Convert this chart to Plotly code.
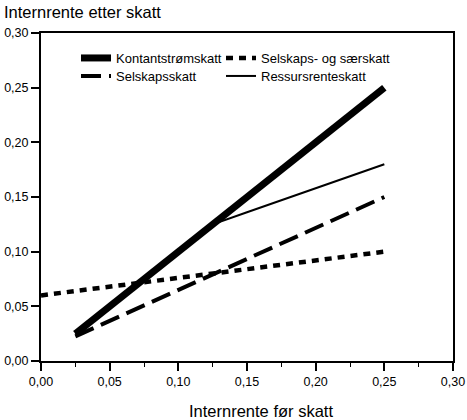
import plotly.graph_objects as go

# before-tax internal rate (x) and after-tax internal rate for each tax regime
x_main = [0.025, 0.05, 0.075, 0.10, 0.125, 0.15, 0.175, 0.20, 0.225, 0.25]
x_full = [0.0, 0.025, 0.05, 0.075, 0.10, 0.125, 0.15, 0.175, 0.20, 0.225, 0.25]

kontantstrom = [0.025, 0.05, 0.075, 0.10, 0.125, 0.15, 0.175, 0.20, 0.225, 0.25]
selskaps_saer = [0.060, 0.064, 0.068, 0.072, 0.076, 0.080, 0.084, 0.088, 0.092, 0.096, 0.100]
selskapsskatt = [0.0225, 0.0367, 0.0508, 0.065, 0.0792, 0.0933, 0.1075, 0.1217, 0.1358, 0.150]
ressursrente = [0.025, 0.05, 0.075, 0.10, 0.125, 0.136, 0.147, 0.158, 0.169, 0.180]

tick_vals = [0.0, 0.05, 0.10, 0.15, 0.20, 0.25, 0.30]

FONT = 'Liberation Sans, Arial, sans-serif'

W, H = 467, 420
L, R, T, B = 41, 14, 33, 59
PW, PH = W - L - R, H - T - B

# page pixel -> paper coordinate
def px_x(p):
	return (p - L)/PW

def px_y(p):
	return (H - B - p)/PH

fig = go.Figure()
fig.add_trace(go.Scatter(
	x = x_main, y = kontantstrom, mode = 'lines', name = 'Kontantstrømskatt',
	line = dict(color = 'black', width = 7), legend = 'legend',
))
fig.add_trace(go.Scatter(
	x = x_full, y = selskaps_saer, mode = 'lines', name = 'Selskaps- og særskatt',
	line = dict(color = 'black', width = 4.5, dash = '7px,6px'), legend = 'legend2',
))
fig.add_trace(go.Scatter(
	x = x_main, y = selskapsskatt, mode = 'lines', name = 'Selskapsskatt',
	line = dict(color = 'black', width = 4, dash = '20px,8px'), legend = 'legend3',
))
fig.add_trace(go.Scatter(
	x = x_main, y = ressursrente, mode = 'lines', name = 'Ressursrenteskatt',
	line = dict(color = 'black', width = 2), legend = 'legend4',
))

axis_common = dict(
	range = [0, 0.30],
	tickvals = tick_vals,
	tickformat = '.2f',
	ticks = 'outside',
	ticklen = 8,
	tickwidth = 2,
	tickcolor = 'black',
	showline = True,
	linewidth = 2,
	linecolor = 'black',
	mirror = True,
	showgrid = False,
	zeroline = False,
	tickfont = dict(family = FONT, size = 12.5, color = 'black'),
)

fig.update_xaxes(
	**axis_common,
	minor = dict(ticks = 'outside', ticklen = 4, tickwidth = 1, tickcolor = 'black', dtick = 0.025, showgrid = False),
)
fig.update_yaxes(**axis_common)

def legend_at(x_text_px, y_center_px):
	return dict(
		x = px_x(x_text_px - 40),
		xanchor = 'left',
		y = px_y(y_center_px),
		yanchor = 'middle',
		itemwidth = 30,
		bgcolor = 'rgba(0,0,0,0)',
		font = dict(family = FONT, size = 13, color = 'black'),
	)

fig.update_layout(
	width = W,
	height = H,
	margin = dict(l = L, r = R, t = T, b = B, autoexpand = False),
	paper_bgcolor = 'white',
	plot_bgcolor = 'white',
	separators = ', ',
	font = dict(family = FONT, size = 12, color = 'black'),
	showlegend = True,
	legend = legend_at(116, 58),
	legend2 = legend_at(261, 58),
	legend3 = legend_at(116, 76),
	legend4 = legend_at(261, 76),
	annotations = [
		dict(
			text = 'Internrente etter skatt', xref = 'paper', yref = 'paper',
			x = px_x(2), y = px_y(12), xanchor = 'left', yanchor = 'middle',
			showarrow = False, font = dict(family = FONT, size = 16.5, color = 'black'),
		),
		dict(
			text = 'Internrente før skatt', xref = 'paper', yref = 'paper',
			x = px_x(261), y = px_y(411), xanchor = 'center', yanchor = 'middle',
			showarrow = False, font = dict(family = FONT, size = 16.5, color = 'black'),
		),
	],
)

# drop the default page margin so the figure fills the window from the corner
fig.write_html(
	'out.html',
	config = {'displayModeBar': False},
	post_script = "document.body.style.margin = '0';",
)
